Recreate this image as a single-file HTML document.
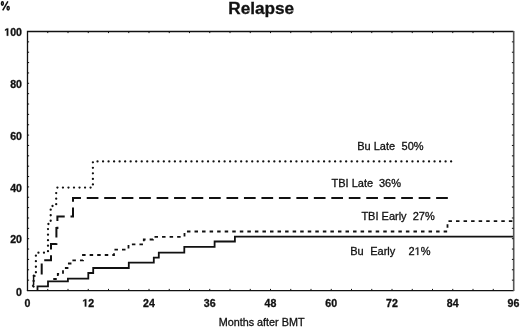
<!DOCTYPE html>
<html><head><meta charset="utf-8"><style>
html,body{margin:0;padding:0;background:#fff;width:520px;height:327px;overflow:hidden}
svg{display:block;filter:grayscale(1)}
text{font-family:"Liberation Sans",sans-serif;fill:#111;stroke:#111;stroke-width:0.3px}
.one{fill:#111;stroke:#111;stroke-width:0.3px;vector-effect:non-scaling-stroke}
</style></head><body>
<svg width="520" height="327" viewBox="0 0 520 327">
<rect width="520" height="327" fill="#fff"/>
<g fill="none" stroke="#111" stroke-linejoin="miter">
<path d="M37.5,291 V286.4 H48 V281.3 H67.9 V278.6 H88.3 V273 H93.2 V268 H128.8 V262.6 H153.8 V257.6 H158.8 V252.7 H184.3 V246.9 H214.6 V241.5 H234.9 V236.7 H513.5" stroke-width="1.8"/>
<path d="M49.5,279 H57.8 V273.8 H63 V268 H67.5 V263.5 H71.5 V260.4 H83 V255 H114 V249.6 H128.5 V244.4 H143.8 V239.5 H153 V236.8 H184.5 V231.5 H447.5 V221.2 H513.5" stroke-width="1.8" stroke-dasharray="3.5 4.05" stroke-dashoffset="3.80"/>
<path d="M41.7,274.5 V260.2 H51 V244 H56.4 V228 H57.4 V216.6 H73 V197.9 H453" stroke-width="2" stroke-dasharray="11.7 5.77" stroke-dashoffset="0.66"/>
<path d="M56.2,187.6 H92.9 V161.4 H453" stroke-width="2.3" stroke-dasharray="0 5.525" stroke-dashoffset="4.30" stroke-linecap="round"/>
<path d="M33.6,287 V275.7 H35.9 V252.7 H48 V224 H50.7 V206 H56.2 V190" stroke-width="2.3" stroke-dasharray="0 5.525" stroke-dashoffset="5.05" stroke-linecap="round"/>
<path d="M32.4,286.5 L33.6,284.5 V275.9 H35.6" stroke-width="1.5"/>
<path d="M27.5,291.1 V31.5 H513.5" stroke-width="1.3"/>
<path d="M26.9,290.7 H513.8" stroke-width="1.3"/>
<path d="M513.7,30.9 V291.1" stroke-width="1.6" stroke="#555"/>
<path d="M47.75,290.50v-1.6 M47.75,31.50v1.6 M68.00,290.50v-1.6 M68.00,31.50v1.6 M88.25,290.50v-1.6 M88.25,31.50v1.6 M108.50,290.50v-1.6 M108.50,31.50v1.6 M128.75,290.50v-1.6 M128.75,31.50v1.6 M149.00,290.50v-1.6 M149.00,31.50v1.6 M169.25,290.50v-1.6 M169.25,31.50v1.6 M189.50,290.50v-1.6 M189.50,31.50v1.6 M209.75,290.50v-1.6 M209.75,31.50v1.6 M230.00,290.50v-1.6 M230.00,31.50v1.6 M250.25,290.50v-1.6 M250.25,31.50v1.6 M270.50,290.50v-1.6 M270.50,31.50v1.6 M290.75,290.50v-1.6 M290.75,31.50v1.6 M311.00,290.50v-1.6 M311.00,31.50v1.6 M331.25,290.50v-1.6 M331.25,31.50v1.6 M351.50,290.50v-1.6 M351.50,31.50v1.6 M371.75,290.50v-1.6 M371.75,31.50v1.6 M392.00,290.50v-1.6 M392.00,31.50v1.6 M412.25,290.50v-1.6 M412.25,31.50v1.6 M432.50,290.50v-1.6 M432.50,31.50v1.6 M452.75,290.50v-1.6 M452.75,31.50v1.6 M473.00,290.50v-1.6 M473.00,31.50v1.6 M493.25,290.50v-1.6 M493.25,31.50v1.6 M27.50,280.14h1.6 M513.50,280.14h-1.6 M27.50,269.78h1.6 M513.50,269.78h-1.6 M27.50,259.42h1.6 M513.50,259.42h-1.6 M27.50,249.06h1.6 M513.50,249.06h-1.6 M27.50,238.70h1.6 M513.50,238.70h-1.6 M27.50,228.34h1.6 M513.50,228.34h-1.6 M27.50,217.98h1.6 M513.50,217.98h-1.6 M27.50,207.62h1.6 M513.50,207.62h-1.6 M27.50,197.26h1.6 M513.50,197.26h-1.6 M27.50,186.90h1.6 M513.50,186.90h-1.6 M27.50,176.54h1.6 M513.50,176.54h-1.6 M27.50,166.18h1.6 M513.50,166.18h-1.6 M27.50,155.82h1.6 M513.50,155.82h-1.6 M27.50,145.46h1.6 M513.50,145.46h-1.6 M27.50,135.10h1.6 M513.50,135.10h-1.6 M27.50,124.74h1.6 M513.50,124.74h-1.6 M27.50,114.38h1.6 M513.50,114.38h-1.6 M27.50,104.02h1.6 M513.50,104.02h-1.6 M27.50,93.66h1.6 M513.50,93.66h-1.6 M27.50,83.30h1.6 M513.50,83.30h-1.6 M27.50,72.94h1.6 M513.50,72.94h-1.6 M27.50,62.58h1.6 M513.50,62.58h-1.6 M27.50,52.22h1.6 M513.50,52.22h-1.6 M27.50,41.86h1.6 M513.50,41.86h-1.6" stroke-width="1"/>
</g>
<g font-weight="bold" font-size="10.6"><text x="16.10" y="295.60">0</text><text x="10.21" y="243.40">20</text><text x="10.21" y="191.70">40</text><text x="10.21" y="139.80">60</text><text x="10.21" y="87.80">80</text><path d="M478,0V1170L140,959V1180L493,1409H759V0Z" transform="translate(4.31,35.70) scale(0.00518,-0.00518)" class="one"/><text x="10.21" y="35.70">00</text><text x="24.55" y="306.50">0</text><path d="M478,0V1170L140,959V1180L493,1409H759V0Z" transform="translate(82.35,306.50) scale(0.00518,-0.00518)" class="one"/><text x="88.25" y="306.50">2</text><text x="143.10" y="306.50">24</text><text x="203.85" y="306.50">36</text><text x="264.60" y="306.50">48</text><text x="325.35" y="306.50">60</text><text x="386.10" y="306.50">72</text><text x="446.85" y="306.50">84</text><text x="507.60" y="306.50">96</text></g>
<g fill="none" stroke="#111"><ellipse cx="2.4" cy="3.5" rx="0.95" ry="1.75" stroke-width="1.45"/><ellipse cx="8.15" cy="8.25" rx="1.05" ry="1.7" stroke-width="1.45"/><path d="M7.9,1.4 L2.7,10.4" stroke-width="1.5"/></g>
<text x="261.2" y="13.7" font-weight="bold" font-size="17.2" text-anchor="middle">Relapse</text>
<text x="261.6" y="325.5" font-size="10.8" text-anchor="middle">Months after BMT</text>
<g font-size="11"><text x="357.2" y="150.4">Bu Late</text><text x="401.60" y="150.40">50%</text><text x="331.5" y="187">TBI Late</text><text x="379.00" y="187.00">36%</text><text x="361.4" y="220.3">TBI Early</text><text x="412.70" y="220.30">27%</text><text x="350.2" y="255.0">Bu</text><text x="370.2" y="255.0">Early</text><text x="408.40" y="255.00">2</text><path d="M515,0V1237L197,1010V1180L530,1409H696V0Z" transform="translate(414.52,255.00) scale(0.00537,-0.00537)" class="one"/><text x="420.64" y="255.00">%</text></g>
</svg>
</body></html>
